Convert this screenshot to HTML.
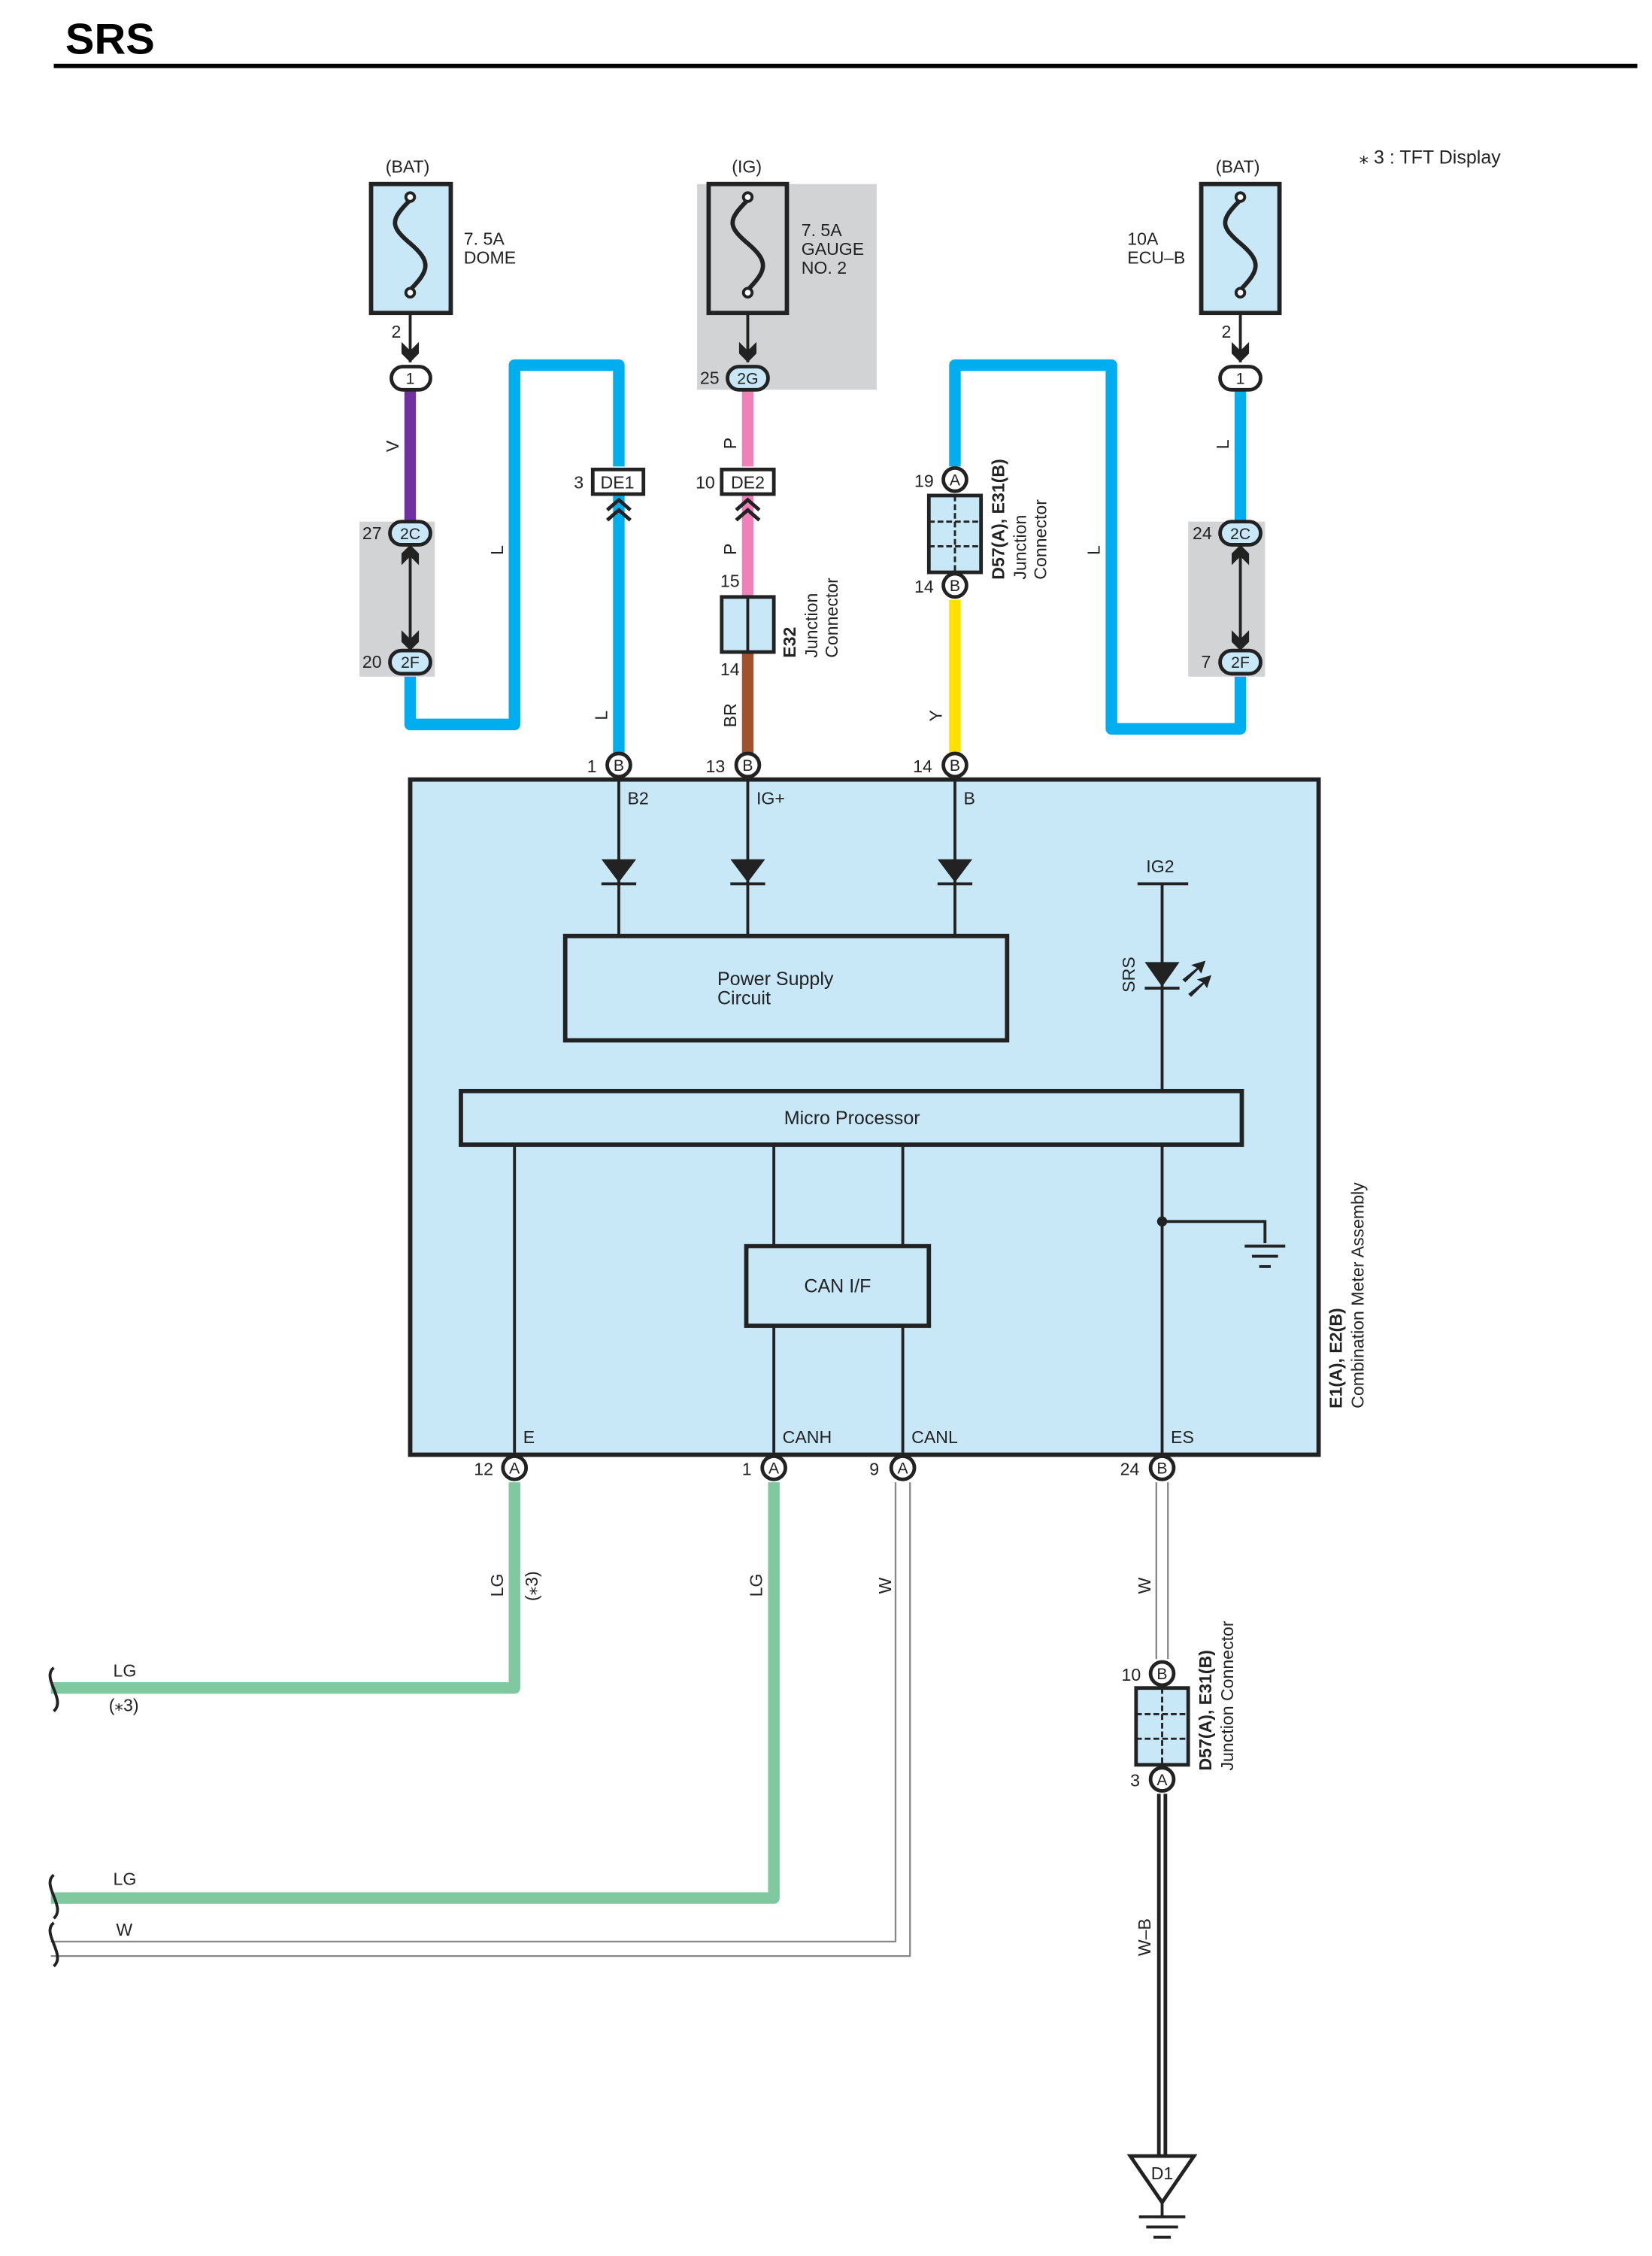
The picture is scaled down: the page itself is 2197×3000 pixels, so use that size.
<!DOCTYPE html>
<html><head><meta charset="utf-8"><style>
html,body{margin:0;padding:0;background:#fff}
svg{display:block}
text{font-family:"Liberation Sans",sans-serif;fill:#222}
</style></head><body>
<svg width="2197" height="3000" viewBox="0 0 1140 1557" xmlns="http://www.w3.org/2000/svg">
<defs>
<g id="fuse"><path d="M0,-34 c-14,14 -14,18 0,30 c14,12 14,18 0,32" fill="none" stroke="#222" stroke-width="3"/><circle cx="0" cy="-36" r="3" fill="#fff" stroke="#222" stroke-width="2"/><circle cx="0" cy="30" r="3" fill="#fff" stroke="#222" stroke-width="2"/></g>
<g id="arr"><path d="M-6,-6 L0,0 L6,-6 L6,2 L0,8 L-6,2 Z" fill="#222"/></g>
</defs>
<text x="45" y="37" font-size="30" font-weight="bold" style="fill:#000">SRS</text>
<rect x="37" y="44" width="1093" height="3" fill="#000"/>
<text x="938" y="113" font-size="13">⁎ 3 : TFT Display</text>

<rect x="481" y="127" width="124" height="142" fill="#d2d3d5"/>
<rect x="248" y="360" width="52" height="107" fill="#d2d3d5"/>
<rect x="820" y="360" width="53" height="107" fill="#d2d3d5"/>

<g fill="none" stroke-linejoin="round" stroke-linecap="butt">
<path d="M283,270 V360" stroke="#7030a0" stroke-width="8"/>
<path d="M283,467 V500 H355 V252 H427 V322" stroke="#00aeef" stroke-width="8"/>
<path d="M427,342 V520" stroke="#00aeef" stroke-width="8"/>
<path d="M516,270 V322 M516,342 V412" stroke="#f080b8" stroke-width="8"/>
<path d="M516,450 V520" stroke="#a0522d" stroke-width="8"/>
<path d="M659,322 V252 H767 V503 H856 V467" stroke="#00aeef" stroke-width="8"/>
<path d="M856,270 V360" stroke="#00aeef" stroke-width="8"/>
<path d="M659,414 V520" stroke="#ffe000" stroke-width="8"/>
<path d="M355,1023 V1165 H35" stroke="#80c8a0" stroke-width="8"/>
<path d="M534,1023 V1310 H35" stroke="#80c8a0" stroke-width="8"/>
<path d="M618,1023 V1340 H35 M628,1023 V1350 H35" stroke="#888" stroke-width="1.2"/>
<path d="M798,1023 V1145 M806,1023 V1145" stroke="#888" stroke-width="1.2"/>
<path d="M802,1238 V1488" stroke="#222" stroke-width="7"/>
<path d="M802,1238 V1488" stroke="#fff" stroke-width="2"/>
</g>
<g fill="none" stroke="#222" stroke-width="2">
<path d="M37,1151 c-9,7 9,22 0,30"/><path d="M37,1294 c-9,7 9,22 0,30"/><path d="M37,1327 c-9,7 9,22 0,30"/>
</g>
<text x="78" y="1157" font-size="12">LG</text><text x="75" y="1181" font-size="12">(⁎3)</text>
<text x="78" y="1301" font-size="12">LG</text><text x="80" y="1336" font-size="12">W</text>

<rect x="256" y="127" width="55" height="89" fill="#c8e8f8" stroke="#222" stroke-width="3"/>
<use href="#fuse" x="283" y="172"/>
<rect x="489" y="127" width="54" height="89" fill="#d2d3d5" stroke="#222" stroke-width="3"/>
<use href="#fuse" x="516" y="172"/>
<rect x="829" y="127" width="54" height="89" fill="#c8e8f8" stroke="#222" stroke-width="3"/>
<use href="#fuse" x="856" y="172"/>
<path d="M283,216 V250 M516,216 V250 M856,216 V250" stroke="#222" stroke-width="2"/>
<use href="#arr" x="283" y="242"/><use href="#arr" x="516" y="242"/><use href="#arr" x="856" y="242"/>
<text x="266" y="119" font-size="12">(BAT)</text><text x="505" y="119" font-size="12">(IG)</text><text x="839" y="119" font-size="12">(BAT)</text>
<text x="320" y="169" font-size="12">7. 5A</text><text x="320" y="182" font-size="12">DOME</text>
<text x="553" y="163" font-size="12">7. 5A</text><text x="553" y="176" font-size="12">GAUGE</text><text x="553" y="189" font-size="12">NO. 2</text>
<text x="778" y="169" font-size="12">10A</text><text x="778" y="182" font-size="12">ECU–B</text>
<text x="270" y="233" font-size="12">2</text><text x="843" y="233" font-size="12">2</text>

<g font-size="11" text-anchor="middle">
<rect x="270" y="253" width="27" height="16" rx="8" fill="#fff" stroke="#222" stroke-width="2.5"/><text x="283" y="265">1</text>
<rect x="502" y="253" width="28" height="16" rx="8" fill="#c8e8f8" stroke="#222" stroke-width="2.5"/><text x="516" y="265">2G</text>
<rect x="842" y="253" width="28" height="16" rx="8" fill="#fff" stroke="#222" stroke-width="2.5"/><text x="856" y="265">1</text>
<rect x="269" y="360" width="28" height="16" rx="8" fill="#c8e8f8" stroke="#222" stroke-width="2.5"/><text x="283" y="372">2C</text>
<rect x="269" y="449" width="28" height="16" rx="8" fill="#c8e8f8" stroke="#222" stroke-width="2.5"/><text x="283" y="461">2F</text>
<rect x="842" y="360" width="28" height="16" rx="8" fill="#c8e8f8" stroke="#222" stroke-width="2.5"/><text x="856" y="372">2C</text>
<rect x="842" y="449" width="28" height="16" rx="8" fill="#c8e8f8" stroke="#222" stroke-width="2.5"/><text x="856" y="461">2F</text>
</g>
<path d="M283,376 V449 M856,376 V449" stroke="#222" stroke-width="2"/>
<use href="#arr" x="283" y="441"/><use href="#arr" x="856" y="441"/>
<g transform="rotate(180 283 384)"><use href="#arr" x="283" y="384"/></g>
<g transform="rotate(180 856 384)"><use href="#arr" x="856" y="384"/></g>
<g font-size="12"><text x="250" y="372">27</text><text x="250" y="461">20</text><text x="823" y="372">24</text><text x="829" y="461">7</text>
<text x="483" y="265">25</text></g>

<rect x="409" y="324" width="35" height="17" fill="#fff" stroke="#222" stroke-width="2.5"/><text x="426" y="337" font-size="12" text-anchor="middle">DE1</text>
<rect x="498" y="324" width="36" height="17" fill="#fff" stroke="#222" stroke-width="2.5"/><text x="516" y="337" font-size="12" text-anchor="middle">DE2</text>
<path d="M419,352 L427,345 L435,352 M419,359 L427,352 L435,359 M508,352 L516,345 L524,352 M508,359 L516,352 L524,359" fill="none" stroke="#222" stroke-width="2.5"/>
<text x="396" y="337" font-size="12">3</text><text x="480" y="337" font-size="12">10</text>

<rect x="498" y="412" width="36" height="38" fill="#c8e8f8" stroke="#222" stroke-width="2.5"/><path d="M516,412 V450" stroke="#222" stroke-width="2"/>
<text x="497" y="405" font-size="12">15</text><text x="497" y="466" font-size="12">14</text>
<text transform="translate(549,454) rotate(-90)" font-size="12" font-weight="bold">E32</text>
<text transform="translate(564,454) rotate(-90)" font-size="12">Junction</text>
<text transform="translate(578,454) rotate(-90)" font-size="12">Connector</text>

<g id="jc">
<rect x="641" y="342" width="36" height="53" fill="#c8e8f8" stroke="#222" stroke-width="2.5"/>
<path d="M659,342 V395 M641,360 H677 M641,377 H677" stroke="#222" stroke-width="1.5" stroke-dasharray="4,2"/>
</g>
<use href="#jc" x="143" y="823"/>
<g font-size="11" text-anchor="middle">
<circle cx="659" cy="331" r="8" fill="#fff" stroke="#222" stroke-width="2.5"/><text x="659" y="335">A</text>
<circle cx="659" cy="404" r="8" fill="#fff" stroke="#222" stroke-width="2.5"/><text x="659" y="408">B</text>
<circle cx="802" cy="1155" r="8" fill="#fff" stroke="#222" stroke-width="2.5"/><text x="802" y="1159">B</text>
<circle cx="802" cy="1228" r="8" fill="#fff" stroke="#222" stroke-width="2.5"/><text x="802" y="1232">A</text>
</g>
<text x="631" y="336" font-size="12">19</text><text x="631" y="409" font-size="12">14</text>
<text x="774" y="1160" font-size="12">10</text><text x="780" y="1233" font-size="12">3</text>
<text transform="translate(693,400) rotate(-90)" font-size="12" font-weight="bold">D57(A), E31(B)</text>
<text transform="translate(708,400) rotate(-90)" font-size="12">Junction</text>
<text transform="translate(722,400) rotate(-90)" font-size="12">Connector</text>
<text transform="translate(836,1222) rotate(-90)" font-size="12" font-weight="bold">D57(A), E31(B)</text>
<text transform="translate(851,1222) rotate(-90)" font-size="12">Junction Connector</text>

<g font-size="12">
<text transform="translate(275,312) rotate(-90)">V</text>
<text transform="translate(347,383) rotate(-90)">L</text>
<text transform="translate(419,497) rotate(-90)">L</text>
<text transform="translate(508,310) rotate(-90)">P</text>
<text transform="translate(508,383) rotate(-90)">P</text>
<text transform="translate(508,502) rotate(-90)">BR</text>
<text transform="translate(650,498) rotate(-90)">Y</text>
<text transform="translate(759,383) rotate(-90)">L</text>
<text transform="translate(848,310) rotate(-90)">L</text>
<text transform="translate(347,1102) rotate(-90)">LG</text>
<text transform="translate(371,1105) rotate(-90)">(⁎3)</text>
<text transform="translate(526,1102) rotate(-90)">LG</text>
<text transform="translate(615,1100) rotate(-90)">W</text>
<text transform="translate(794,1100) rotate(-90)">W</text>
<text transform="translate(794,1350) rotate(-90)">W–B</text>
</g>

<rect x="283" y="538" width="627" height="466" fill="#c8e8f8" stroke="#222" stroke-width="3"/>
<text transform="translate(926,972) rotate(-90)" font-size="12" font-weight="bold">E1(A), E2(B)</text>
<text transform="translate(941,972) rotate(-90)" font-size="12">Combination Meter Assembly</text>
<g stroke="#222" stroke-width="2" fill="none">
<path d="M427,536 V646 M516,536 V646 M659,536 V646"/>
<path d="M355,790 V1004 M534,790 V860 M623,790 V860 M534,915 V1004 M623,915 V1004 M802,610 V753 M802,790 V1004 M802,843 H873 V858"/>
<path d="M785,610 H820"/>
<path d="M859,860 H887 M864,867 H882 M869,874 H877"/>
</g>
<g fill="#222">
<path d="M415,593 H439 L427,609 Z"/><rect x="415" y="609" width="24" height="2"/>
<path d="M504,593 H528 L516,609 Z"/><rect x="504" y="609" width="24" height="2"/>
<path d="M647,593 H671 L659,609 Z"/><rect x="647" y="609" width="24" height="2"/>
<path d="M790,664 H814 L802,681 Z"/><rect x="790" y="681" width="24" height="2"/>
<path d="M816,676 L826,668 L822,666 L832,663 L829,672 L827,669 L818,678 Z"/>
<path d="M820,686 L830,678 L826,676 L836,673 L833,682 L831,679 L822,688 Z"/>
<circle cx="802" cy="843" r="3.5"/>
</g>
<rect x="390" y="646" width="305" height="72" fill="none" stroke="#222" stroke-width="3"/>
<text x="495" y="680" font-size="13">Power Supply</text><text x="495" y="693" font-size="13">Circuit</text>
<rect x="318" y="753" width="539" height="37" fill="#c8e8f8" stroke="#222" stroke-width="3"/>
<text x="588" y="776" font-size="13" text-anchor="middle">Micro Processor</text>
<rect x="515" y="860" width="126" height="55" fill="#c8e8f8" stroke="#222" stroke-width="3"/>
<text x="578" y="892" font-size="13" text-anchor="middle">CAN I/F</text>
<g font-size="12">
<text x="433" y="555">B2</text><text x="522" y="555">IG+</text><text x="665" y="555">B</text>
<text x="791" y="602">IG2</text>
<text transform="translate(783,685) rotate(-90)">SRS</text>
<text x="361" y="996">E</text><text x="540" y="996">CANH</text><text x="629" y="996">CANL</text><text x="808" y="996">ES</text>
<text x="405" y="533">1</text><text x="487" y="533">13</text><text x="630" y="533">14</text>
<text x="327" y="1018">12</text><text x="512" y="1018">1</text><text x="600" y="1018">9</text><text x="773" y="1018">24</text>
</g>
<g font-size="11" text-anchor="middle">
<circle cx="427" cy="528" r="8" fill="#fff" stroke="#222" stroke-width="2.5"/><text x="427" y="532">B</text>
<circle cx="516" cy="528" r="8" fill="#fff" stroke="#222" stroke-width="2.5"/><text x="516" y="532">B</text>
<circle cx="659" cy="528" r="8" fill="#fff" stroke="#222" stroke-width="2.5"/><text x="659" y="532">B</text>
<circle cx="355" cy="1013" r="8" fill="#fff" stroke="#222" stroke-width="2.5"/><text x="355" y="1017">A</text>
<circle cx="534" cy="1013" r="8" fill="#fff" stroke="#222" stroke-width="2.5"/><text x="534" y="1017">A</text>
<circle cx="623" cy="1013" r="8" fill="#fff" stroke="#222" stroke-width="2.5"/><text x="623" y="1017">A</text>
<circle cx="802" cy="1013" r="8" fill="#fff" stroke="#222" stroke-width="2.5"/><text x="802" y="1017">B</text>
</g>

<path d="M780,1488 H824 L802,1520 Z" fill="#fff" stroke="#222" stroke-width="2.5"/>
<text x="802" y="1504" font-size="12" text-anchor="middle">D1</text>
<path d="M802,1520 V1530 M786,1530 H818 M791,1537 H813 M796,1544 H808" stroke="#222" stroke-width="2"/>
</svg>
</body></html>
